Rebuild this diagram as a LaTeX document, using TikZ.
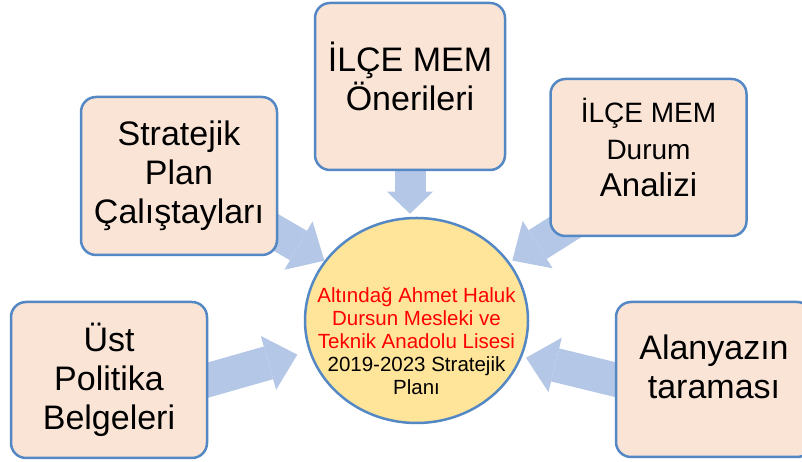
\documentclass[tikz,border=0pt]{standalone}
\usepackage{fontspec}
\setmainfont{Liberation Sans}
\usetikzlibrary{arrows.meta,shapes.geometric,backgrounds}
\definecolor{boxfill}{RGB}{250,228,214}
\definecolor{boxline}{RGB}{84,136,196}
\definecolor{arrowblue}{RGB}{180,199,231}
\definecolor{circfill}{RGB}{255,229,153}
\tikzset{
  srcbox/.style={draw=boxline, fill=boxfill, line width=2.5pt, rounded corners=15pt,
    inner sep=0pt, align=center, minimum width=196pt, minimum height=157pt,
    font=\fontsize{34}{39}\selectfont},
  bigarrow/.style={draw=arrowblue, line width=34pt,
    -{Triangle[length=30pt,width=56pt,line width=0pt]}, shorten <=-30pt},
}

\begin{document}
\begin{tikzpicture}[x=1pt,y=1pt]
\useasboundingbox (0,0) rectangle (802,462);
% source boxes
\node[srcbox, minimum width=190pt, minimum height=167pt, text depth=20pt] (onr) at (410,375.5) {İLÇE MEM\\Önerileri};
\node[srcbox, minimum height=158pt] (plan) at (179,286) {Stratejik\\Plan\\Çalıştayları};
\node[srcbox, font=\fontsize{28}{37}\selectfont, text depth=20pt] (dur) at (648.5,304.5)
  {İLÇE MEM\\Durum\\\fontsize{33}{37}\selectfont Analizi};
\node[srcbox, minimum height=156pt] (ust) at (109,82) {Üst\\Politika\\Belgeleri};
\node[srcbox, minimum height=155pt, text depth=26pt] (ala) at (714,82.5) {Alanyazın\\taraması};
% the plan in the middle
\node[ellipse, draw=boxline, fill=circfill, line width=2.5pt,
      minimum width=223pt, minimum height=205pt] (ctr) at (416.5,141.5) {};
\node[align=center, text=red, font=\fontsize{20.5}{23}\selectfont] (ctrtext) at (416.5,121)
  {Altındağ Ahmet Haluk\\Dursun Mesleki ve\\Teknik Anadolu Lisesi\\
   \color{black}2019-2023 Stratejik\\\color{black}Planı};
% block arrows, behind the boxes
\begin{scope}[on background layer]
\draw[bigarrow, line width=31pt, -{Triangle[length=22pt,width=46pt,line width=0pt]},
      shorten >=3pt] (onr.south) -- (onr.south |- ctr.north);
\draw[bigarrow] (plan.center) -- (ctr.147);
\draw[bigarrow, shorten >=3pt] (dur.south west) -- (ctr.32);
\draw[bigarrow, shorten >=12pt] (ust.east) -- (ctr.196);
\draw[bigarrow, shorten >=4pt] (ala.west) -- (ctr.-19);
\end{scope}
\end{tikzpicture}
\end{document}
